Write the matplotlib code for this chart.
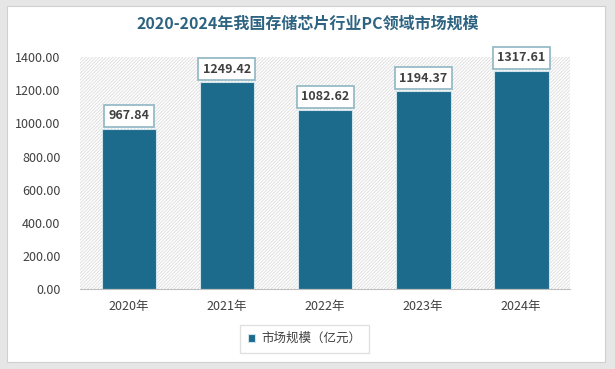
import matplotlib.pyplot as plt
from matplotlib.patches import Rectangle

plt.rcParams['font.family'] = ['Noto Sans CJK SC', 'DejaVu Sans']
plt.rcParams['hatch.color'] = '#dcdcdc'
plt.rcParams['hatch.linewidth'] = 0.6

years = ['2020年', '2021年', '2022年', '2023年', '2024年']
market_size = [967.84, 1249.42, 1082.62, 1194.37, 1317.61]
yticks = [0, 200, 400, 600, 800, 1000, 1200, 1400]

bar_color = '#1c6a8c'

fig = plt.figure(figsize=(6.15, 3.69), dpi=100)
fig.patch.set_facecolor('#e6e6e6')

# white card behind everything
card = Rectangle((0.012, 0.02), 0.972, 0.965, transform=fig.transFigure,
                 facecolor='white', edgecolor='#d0d0d0', linewidth=0.8, zorder=-10)
fig.patches.append(card)

ax = fig.add_axes([0.13, 0.217, 0.797, 0.628])
ax.set_facecolor('none')
# hatched plot background
ax.add_patch(Rectangle((0, 0), 1, 1.01, transform=ax.transAxes, facecolor='white',
                       edgecolor='#dcdcdc', linewidth=0, hatch='//////////', zorder=0))

x = range(len(years))
bars = ax.bar(x, market_size, width=0.56, color=bar_color, edgecolor='#cfe3ea',
              linewidth=0.8, zorder=2)

for xi, v in zip(x, market_size):
    ax.text(xi, v + 78, f'{v:.2f}', ha='center', va='center', fontsize=9,
            fontweight='bold', color='#404040', zorder=3,
            bbox=dict(boxstyle='square,pad=0.35', facecolor='white',
                      edgecolor='#8fb6c4', linewidth=1.2))

ax.set_xlim(-0.5, 4.5)
ax.set_ylim(0, 1400)
ax.set_yticks(yticks)
ax.set_yticklabels([f'{t:.2f}' for t in yticks], fontsize=9, color='#404040')
ax.set_xticks(list(x))
ax.set_xticklabels(years, fontsize=9, color='#404040')
ax.tick_params(length=0, pad=8)
ax.tick_params(axis='y', pad=14)
for s in ['top', 'right', 'left']:
    ax.spines[s].set_visible(False)
ax.spines['bottom'].set_color('#bfbfbf')

fig.text(0.5, 0.935, '2020-2024年我国存储芯片行业PC领域市场规模', ha='center',
         va='center', fontsize=11.5, fontweight='bold', color='#2e6482')

leg = ax.legend([bars], ['市场规模（亿元）'], loc='center', bbox_to_anchor=(0.495, 0.082),
                bbox_transform=fig.transFigure, fontsize=9, frameon=True,
                fancybox=False, handlelength=0.6, handleheight=0.6,
                borderpad=0.6, handletextpad=0.5)
leg.get_frame().set_edgecolor('#d9d9d9')
for t in leg.get_texts():
    t.set_color('#404040')

fig.savefig('out.png', dpi=100, facecolor=fig.get_facecolor())
